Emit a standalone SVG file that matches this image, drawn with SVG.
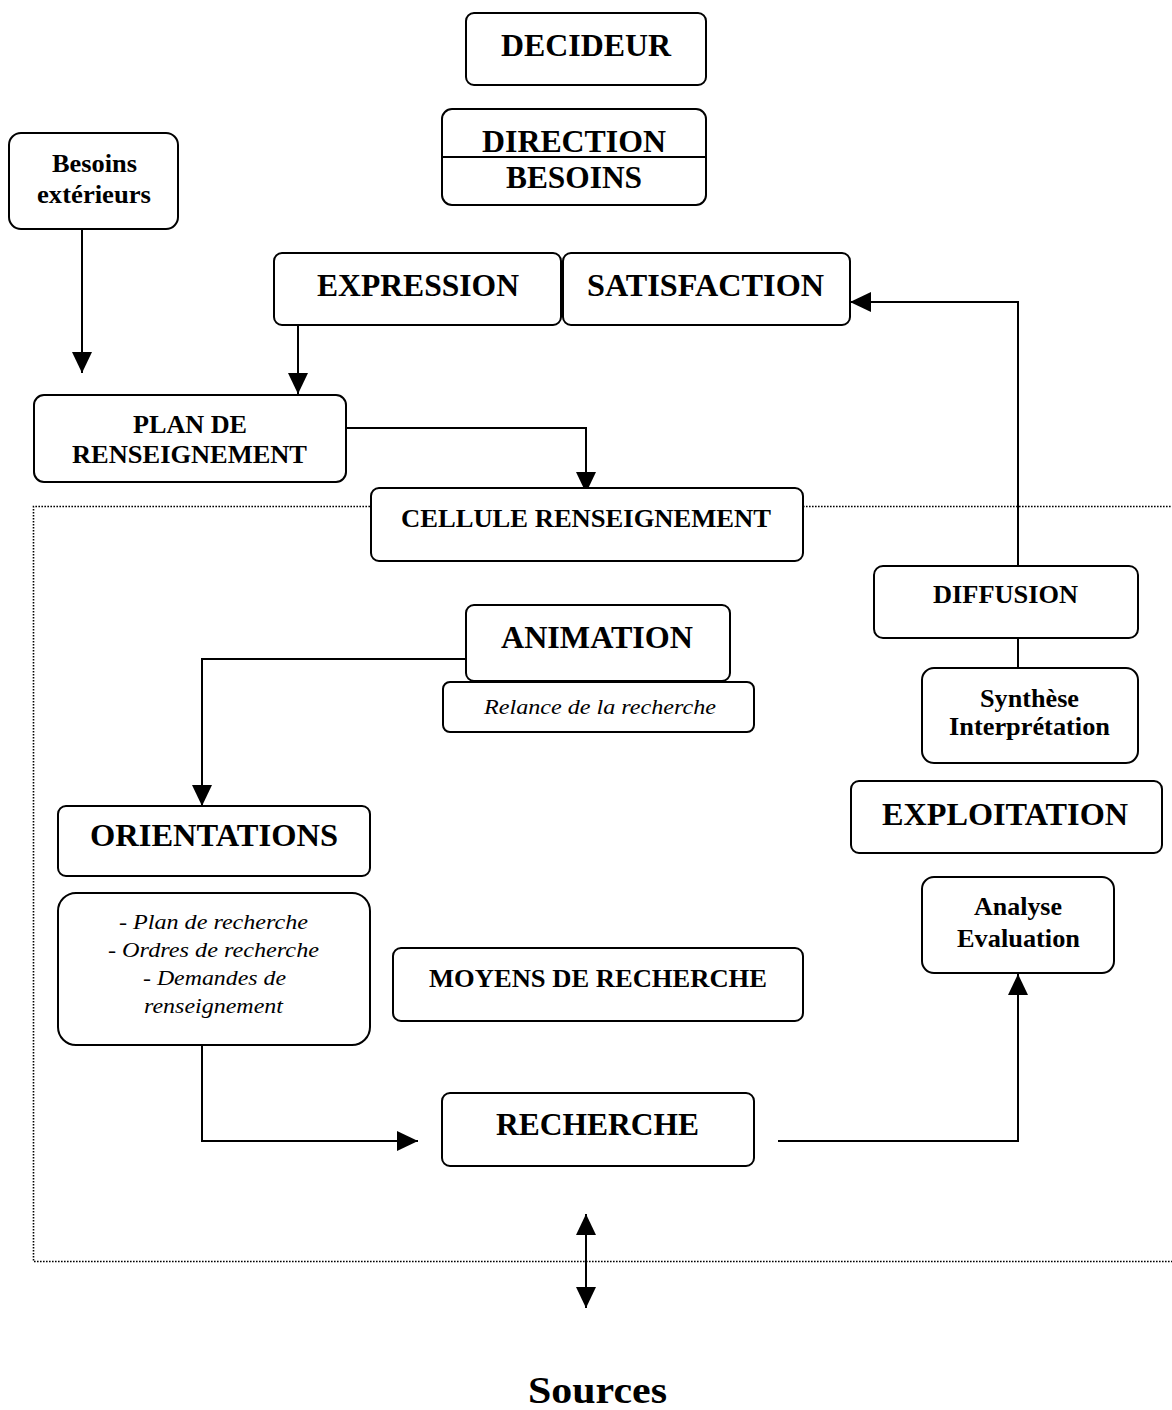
<svg xmlns="http://www.w3.org/2000/svg" width="1172" height="1410" viewBox="0 0 1172 1410">
  <style>
    .box { fill: #fff; stroke: #000; stroke-width: 2; }
    .wire { fill: none; stroke: #000; stroke-width: 2; }
    .frame { fill: none; stroke: #000; stroke-width: 1.6; stroke-dasharray: 1.6 1.4; }
    .t { font-family: "Liberation Serif", "Times New Roman", Tinos, Times, serif; fill: #000; }
    .big { font-size: 32px; font-weight: bold; }
    .mid { font-size: 25px; font-weight: bold; }
    .it { font-size: 21px; font-style: italic; }
    .src { font-size: 37px; font-weight: bold; }
  </style>
  <defs>
    <marker id="tri" markerUnits="userSpaceOnUse" markerWidth="21" markerHeight="20" viewBox="0 0 21 20" refX="21" refY="10" orient="auto-start-reverse">
      <path d="M0,0 L21,10 L0,20 z" fill="#000"/>
    </marker>
  </defs>

  <rect width="1172" height="1410" fill="#fff"/>

  <!-- dotted boundary of the intelligence cell -->
  <g id="cell-boundary">
    <path class="frame" d="M370,506.5 H33.5 V1261.5 H1172"/>
    <path class="frame" d="M803,506.5 H1172"/>
  </g>

  <!-- connectors -->
  <g id="connectors">
    <path class="wire" d="M82,229 V373" marker-end="url(#tri)"/>
    <path class="wire" d="M298,321 V394" marker-end="url(#tri)"/>
    <path class="wire" d="M346,428 H586 V493" marker-end="url(#tri)"/>
    <path class="wire" d="M466,659 H202 V806" marker-end="url(#tri)"/>
    <path class="wire" d="M202,1045 V1141 H418" marker-end="url(#tri)"/>
    <path class="wire" d="M778,1141 H1018 V974" marker-end="url(#tri)"/>
    <path class="wire" d="M1018,638 V668"/>
    <path class="wire" d="M1018,566 V302 H850" marker-end="url(#tri)"/>
    <path class="wire" d="M586,1214 V1308" marker-start="url(#tri)" marker-end="url(#tri)"/>
  </g>

  <g id="decideur">
    <rect class="box" x="466" y="13" width="240" height="72" rx="8"/>
    <text class="t big" x="501" y="56" textLength="170" lengthAdjust="spacingAndGlyphs">DECIDEUR</text>
  </g>

  <g id="direction-besoins">
    <rect class="box" x="442" y="109" width="264" height="96" rx="10"/>
    <line class="wire" x1="442" y1="157" x2="706" y2="157"/>
    <text class="t big" x="482" y="152" textLength="184" lengthAdjust="spacingAndGlyphs">DIRECTION</text>
    <text class="t big" x="506" y="188" textLength="136" lengthAdjust="spacingAndGlyphs">BESOINS</text>
  </g>

  <g id="besoins-exterieurs">
    <rect class="box" x="9" y="133" width="169" height="96" rx="12"/>
    <text class="t mid" x="52" y="172" textLength="85" lengthAdjust="spacingAndGlyphs">Besoins</text>
    <text class="t mid" x="37" y="203" textLength="114" lengthAdjust="spacingAndGlyphs">extérieurs</text>
  </g>

  <g id="expression">
    <rect class="box" x="274" y="253" width="287" height="72" rx="8"/>
    <text class="t big" x="317" y="296" textLength="202" lengthAdjust="spacingAndGlyphs">EXPRESSION</text>
  </g>

  <g id="satisfaction">
    <rect class="box" x="563" y="253" width="287" height="72" rx="8"/>
    <text class="t big" x="587" y="296" textLength="237" lengthAdjust="spacingAndGlyphs">SATISFACTION</text>
  </g>

  <g id="plan-renseignement">
    <rect class="box" x="34" y="395" width="312" height="87" rx="10"/>
    <text class="t mid" x="133" y="433" textLength="114" lengthAdjust="spacingAndGlyphs">PLAN DE</text>
    <text class="t mid" x="72" y="463" textLength="235" lengthAdjust="spacingAndGlyphs">RENSEIGNEMENT</text>
  </g>

  <g id="cellule-renseignement">
    <rect class="box" x="371" y="488" width="432" height="73" rx="8"/>
    <text class="t mid" x="401" y="527" textLength="370" lengthAdjust="spacingAndGlyphs">CELLULE RENSEIGNEMENT</text>
  </g>

  <g id="animation">
    <rect class="box" x="466" y="605" width="264" height="76" rx="8"/>
    <text class="t big" x="501" y="648" textLength="192" lengthAdjust="spacingAndGlyphs">ANIMATION</text>
  </g>

  <g id="relance">
    <rect class="box" x="443" y="682" width="311" height="50" rx="7"/>
    <text class="t it" x="484" y="714" textLength="232" lengthAdjust="spacingAndGlyphs">Relance de la recherche</text>
  </g>

  <g id="orientations">
    <rect class="box" x="58" y="806" width="312" height="70" rx="8"/>
    <text class="t big" x="90" y="846" textLength="248" lengthAdjust="spacingAndGlyphs">ORIENTATIONS</text>
  </g>

  <g id="plan-recherche">
    <rect class="box" x="58" y="893" width="312" height="152" rx="18"/>
    <text class="t it" x="119" y="929" textLength="189" lengthAdjust="spacingAndGlyphs">- Plan de recherche</text>
    <text class="t it" x="108" y="957" textLength="211" lengthAdjust="spacingAndGlyphs">- Ordres de recherche</text>
    <text class="t it" x="143" y="985" textLength="143" lengthAdjust="spacingAndGlyphs">- Demandes de</text>
    <text class="t it" x="144" y="1013" textLength="139" lengthAdjust="spacingAndGlyphs">renseignement</text>
  </g>

  <g id="moyens-recherche">
    <rect class="box" x="393" y="948" width="410" height="73" rx="8"/>
    <text class="t mid" x="429" y="987" textLength="338" lengthAdjust="spacingAndGlyphs">MOYENS DE RECHERCHE</text>
  </g>

  <g id="recherche">
    <rect class="box" x="442" y="1093" width="312" height="73" rx="8"/>
    <text class="t big" x="496" y="1135" textLength="203" lengthAdjust="spacingAndGlyphs">RECHERCHE</text>
  </g>

  <g id="diffusion">
    <rect class="box" x="874" y="566" width="264" height="72" rx="9"/>
    <text class="t mid" x="933" y="603" textLength="145" lengthAdjust="spacingAndGlyphs">DIFFUSION</text>
  </g>

  <g id="synthese">
    <rect class="box" x="922" y="668" width="216" height="95" rx="12"/>
    <text class="t mid" x="980" y="707" textLength="99" lengthAdjust="spacingAndGlyphs">Synthèse</text>
    <text class="t mid" x="949" y="735" textLength="161" lengthAdjust="spacingAndGlyphs">Interprétation</text>
  </g>

  <g id="exploitation">
    <rect class="box" x="851" y="781" width="311" height="72" rx="8"/>
    <text class="t big" x="882" y="825" textLength="246" lengthAdjust="spacingAndGlyphs">EXPLOITATION</text>
  </g>

  <g id="analyse">
    <rect class="box" x="922" y="877" width="192" height="96" rx="12"/>
    <text class="t mid" x="974" y="915" textLength="88" lengthAdjust="spacingAndGlyphs">Analyse</text>
    <text class="t mid" x="957" y="947" textLength="123" lengthAdjust="spacingAndGlyphs">Evaluation</text>
  </g>

  <g id="sources">
    <text class="t src" x="528" y="1403" textLength="139" lengthAdjust="spacingAndGlyphs">Sources</text>
  </g>
</svg>
